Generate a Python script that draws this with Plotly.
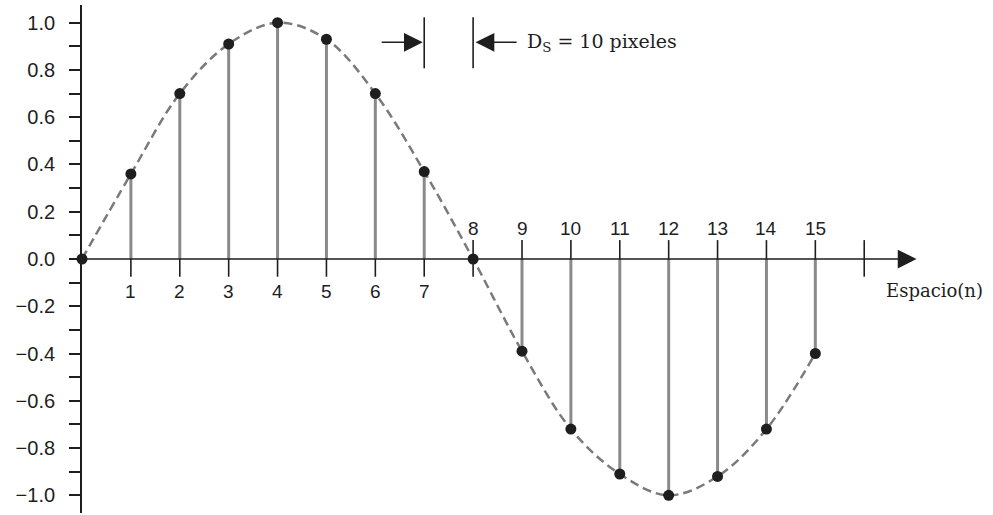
import plotly.graph_objects as go

# ---- data ----
n_samples = list(range(16))
sample_values = [0.0, 0.36, 0.70, 0.91, 1.0, 0.93, 0.70, 0.37, 0.0,
                 -0.39, -0.72, -0.91, -1.0, -0.92, -0.72, -0.40]
y_tick_values = [1.0, 0.8, 0.6, 0.4, 0.2, 0.0, -0.2, -0.4, -0.6, -0.8, -1.0]
y_tick_labels = ["1.0", "0.8", "0.6", "0.4", "0.2", "0.0",
                 "\u22120.2", "\u22120.4", "\u22120.6", "\u22120.8", "\u22121.0"]
x_labels_below = [1, 2, 3, 4, 5, 6, 7]
x_labels_above = [8, 9, 10, 11, 12, 13, 14, 15]
axis_end_tick = 16
spacing_pair = [7, 8]
spacing_label = "D<sub>S</sub> = 10 pixeles"
x_title = "Espacio(n)"

# ---- styling ----
INK = "#1e1e1e"
STEM = "#8a8a8a"
CURVE = "#7a7a7a"
SANS = "Liberation Sans, Arial, sans-serif"
SERIF = "DejaVu Serif, serif"
X_MAX = 17.1
Y_RANGE = [-1.075, 1.075]
TICK_UP = 0.08
TICK_DOWN = 0.075
ARROW_Y = 0.917

fig = go.Figure()

# dashed continuous curve through samples
fig.add_trace(go.Scatter(
    x=n_samples, y=sample_values, mode="lines",
    line=dict(shape="spline", smoothing=1.0, dash="9px,5px", color=CURVE, width=2.5),
    hoverinfo="skip", cliponaxis=False))

# stems
sx, sy = [], []
for n, v in zip(n_samples, sample_values):
    sx += [n, n, None]
    sy += [0, v, None]
fig.add_trace(go.Scatter(x=sx, y=sy, mode="lines",
                         line=dict(color=STEM, width=3), hoverinfo="skip", cliponaxis=False))

# x-axis tick marks
tx, ty = [], []
for n in x_labels_below:
    tx += [n, n, None]
    ty += [0, -TICK_DOWN, None]
for n in x_labels_above:
    tx += [n, n, None]
    ty += [TICK_UP, 0 if n != x_labels_above[0] else -TICK_DOWN, None]
tx += [axis_end_tick, axis_end_tick, None]
ty += [TICK_UP, -TICK_DOWN, None]
fig.add_trace(go.Scatter(x=tx, y=ty, mode="lines",
                         line=dict(color=INK, width=1.6), hoverinfo="skip", cliponaxis=False))

# spacing marker bars
bx, by = [], []
for n in spacing_pair:
    bx += [n, n, None]
    by += [0.807, 1.023, None]
fig.add_trace(go.Scatter(x=bx, y=by, mode="lines",
                         line=dict(color=INK, width=1.6), hoverinfo="skip", cliponaxis=False))

# sample dots
fig.add_trace(go.Scatter(x=n_samples, y=sample_values, mode="markers",
                         marker=dict(size=11, color=INK), hoverinfo="skip", cliponaxis=False))

ARROW = dict(xref="x", yref="y", axref="x", ayref="y", text="", showarrow=True,
             arrowhead=2, arrowsize=2.5, arrowwidth=1.5, arrowcolor=INK)
annotations = []
# horizontal axis with arrow
annotations.append(dict(x=17.07, y=0, ax=0, ay=0, **ARROW))
# spacing arrows
annotations.append(dict(x=spacing_pair[0] - 0.03, y=ARROW_Y, ax=6.1, ay=ARROW_Y, **ARROW))
annotations.append(dict(x=spacing_pair[1] + 0.05, y=ARROW_Y, ax=8.92, ay=ARROW_Y, **ARROW))
annotations.append(dict(x=9.07, y=ARROW_Y, xref="x", yref="y", text=spacing_label,
                        showarrow=False, xanchor="left", yanchor="middle",
                        font=dict(family=SERIF, size=19, color=INK)))
# x labels
for n in x_labels_below:
    annotations.append(dict(x=n, y=0, xref="x", yref="y", text=str(n), showarrow=False,
                            yshift=-32, yanchor="middle",
                            font=dict(family=SANS, size=19, color=INK)))
for n in x_labels_above:
    annotations.append(dict(x=n, y=0, xref="x", yref="y", text=str(n), showarrow=False,
                            yshift=31, yanchor="middle",
                            font=dict(family=SANS, size=19, color=INK)))
annotations.append(dict(x=16.41, y=-0.135, xref="x", yref="y", text=x_title, showarrow=False,
                        xanchor="left", yanchor="middle",
                        font=dict(family=SERIF, size=18, color=INK)))

fig.update_layout(
    width=993, height=515,
    margin=dict(l=82, r=993 - 82 - 836, t=5, b=2, autoexpand=False),
    paper_bgcolor="white", plot_bgcolor="white",
    showlegend=False,
    annotations=annotations,
    xaxis=dict(range=[0, X_MAX], visible=False, fixedrange=True, automargin=False),
    yaxis=dict(range=Y_RANGE, showgrid=False, zeroline=False, automargin=False,
               showline=True, linecolor=INK, linewidth=1.8,
               ticks="outside", ticklen=11, tickwidth=1.8, tickcolor=INK,
               tickvals=y_tick_values, ticktext=y_tick_labels,
               tickfont=dict(family=SANS, size=20, color=INK),
               ticklabelstandoff=10,
               minor=dict(dtick=0.1, tick0=0, ticks="outside", ticklen=11,
                          tickwidth=1.8, tickcolor=INK, showgrid=False),
               layer="below traces", fixedrange=True),
)

fig.write_html("out.html", config={"displayModeBar": False},
               post_script="document.body.style.margin='0';document.body.style.overflow='hidden';")
